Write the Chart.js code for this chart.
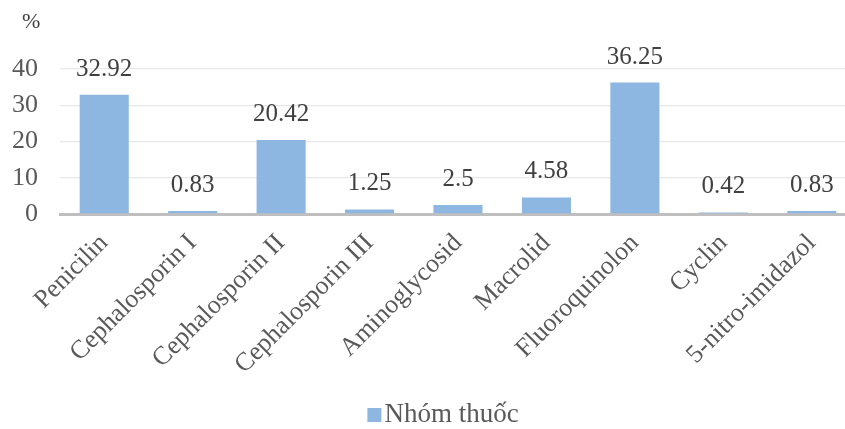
<!DOCTYPE html>
<html lang="vi">
<head>
<meta charset="UTF-8">
<title>Nhóm thuốc</title>
<script src="https://cdn.jsdelivr.net/npm/chart.js"></script>
<style>
    html, body {
        margin: 0;
        padding: 0;
        background: #ffffff;
        overflow: hidden;
    }
    .wrap {
        width: 886px;
        height: 429px;
    }
</style>
</head>
<body>
<div class="wrap">
    <canvas id="chart"></canvas>
</div>
<script>
const categories = ['Penicilin', 'Cephalosporin I', 'Cephalosporin II', 'Cephalosporin III',
    'Aminoglycosid', 'Macrolid', 'Fluoroquinolon', 'Cyclin', '5-nitro-imidazol'];
const seriesName = 'Nhóm thuốc';
const values = [32.92, 0.83, 20.42, 1.25, 2.5, 4.58, 36.25, 0.42, 0.83];
const yTicks = [0, 10, 20, 30, 40];
const unitLabel = '%';

const barColor = '#8db6e1';
const textColor = '#404040';
const axisTextColor = '#595959';
const fontFamily = '"Liberation Serif", "Times New Roman", serif';

// values above bars, the "%" unit and a compact legend under the chart
const extras = {
    id: 'extras',
    afterDatasetsDraw(chart) {
        const ctx = chart.ctx;
        const meta = chart.getDatasetMeta(0);
        ctx.save();
        ctx.fillStyle = textColor;
        ctx.font = '25px ' + fontFamily;
        ctx.textAlign = 'center';
        ctx.textBaseline = 'alphabetic';
        meta.data.forEach((bar, i) => {
            ctx.fillText(String(values[i]), bar.x, bar.y - 19);
        });

        ctx.font = '22px ' + fontFamily;
        ctx.textAlign = 'left';
        ctx.fillText(unitLabel, chart.scales.y.left + 22, 28);

        // legend
        ctx.font = '27px ' + fontFamily;
        const tw = ctx.measureText(seriesName).width;
        const box = 14, gap = 3;
        const total = box + gap + tw;
        const cx = (chart.chartArea.left + chart.chartArea.right) / 2 - 15;
        const x0 = cx - total / 2;
        const cy = 415;
        ctx.fillStyle = barColor;
        ctx.fillRect(x0, cy - box / 2, box, box);
        ctx.fillStyle = axisTextColor;
        ctx.textBaseline = 'middle';
        ctx.fillText(seriesName, x0 + box + gap, cy);
        ctx.restore();
    }
};

new Chart(document.getElementById('chart'), {
    type: 'bar',
    data: {
        labels: categories,
        datasets: [{
            label: seriesName,
            data: values,
            backgroundColor: barColor,
            borderWidth: 0,
            categoryPercentage: 1,
            barPercentage: 0.555
        }]
    },
    options: {
        responsive: true,
        maintainAspectRatio: false,
        animation: false,
        layout: {
            padding: { top: 69, right: 30, left: 0, bottom: 46 }
        },
        plugins: {
            tooltip: { enabled: false },
            legend: { display: false }
        },
        scales: {
            x: {
                grid: { display: false },
                border: { color: '#bfbfbf', width: 3 },
                ticks: {
                    color: axisTextColor,
                    font: { family: fontFamily, size: 26 },
                    minRotation: 45,
                    maxRotation: 45,
                    autoSkip: false,
                    padding: 6
                },
                afterFit(scale) { scale.height = 169; }
            },
            y: {
                min: 0,
                max: 40,
                afterBuildTicks(scale) {
                    scale.ticks = yTicks.map(v => ({ value: v }));
                },
                grid: { color: '#e8e8e8', lineWidth: 1.3, drawTicks: false },
                border: { display: false },
                ticks: {
                    color: axisTextColor,
                    font: { family: fontFamily, size: 26 },
                    padding: 22
                },
                afterFit(scale) { scale.width = 60; }
            }
        }
    },
    plugins: [extras]
});
</script>
</body>
</html>
